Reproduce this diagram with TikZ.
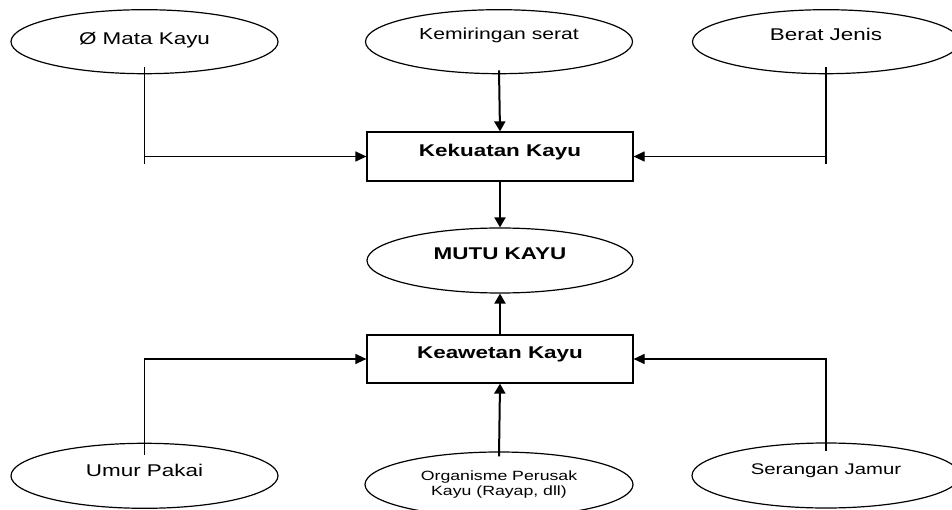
\documentclass[tikz,border=0pt]{standalone}
\usepackage{fontspec}
\setmainfont[FakeStretch=1.32]{Liberation Sans}
\usetikzlibrary{shapes.geometric,arrows.meta}
\begin{document}
\begin{tikzpicture}[x=1pt,y=-1pt,
  ell/.style={ellipse,draw,line width=1.2pt,minimum width=267pt,minimum height=64pt,inner sep=0pt,
    text height=5pt,text depth=5pt,font=\fontsize{17}{19}\selectfont},
  boxnode/.style={rectangle,draw,line width=1.2pt,minimum width=266pt,minimum height=49pt,inner sep=0pt,
    text height=5pt,text depth=5pt,font=\fontsize{17}{19}\selectfont\bfseries},
  thinline/.style={line width=1.2pt},
  thinarr/.style={line width=1.2pt,-{Triangle[length=11pt,width=10pt]}},
  thickarr/.style={line width=2pt,-{Triangle[length=10pt,width=11pt]}}
]
\useasboundingbox (0,0) rectangle (952,510);

% top row
\node[ell] (mata) at (144.5,41.7) {\raisebox{-3.3pt}{Ø Mata Kayu}};
\node[ell,font=\fontsize{16}{18}\selectfont] (kemi) at (499,41.7) {\raisebox{2.4pt}{Kemiringan serat}};
\node[ell] (berat) at (826,41.7) {\raisebox{1pt}{Berat Jenis}};

% centre column
\node[boxnode] (kek) at (500,156.5) {Kekuatan Kayu};
\node[ell,minimum width=266pt,minimum height=65pt,font=\fontsize{17}{19}\selectfont\bfseries] (mutu) at (500,260.5) {\raisebox{0.5pt}{MUTU KAYU}};
\node[boxnode,minimum height=48pt] (kea) at (500,359) {\raisebox{0.7pt}{Keawetan Kayu}};

% bottom row
\node[ell,minimum height=65pt] (umur) at (144.5,475.8) {\raisebox{-0.9pt}{Umur Pakai}};
\node[ell,minimum width=268pt,minimum height=65pt,font=\fontsize{13.4}{15}\selectfont] (org) at (499,484.5)
  {\raisebox{-10.5pt}{\begin{tabular}[b]{@{}c@{}}Organisme Perusak\\Kayu (Rayap, dll)\end{tabular}}};
\node[ell,minimum width=268pt,minimum height=65pt,font=\fontsize{15.4}{17}\selectfont] (serang) at (826,475.5) {\raisebox{1.5pt}{Serangan Jamur}};

% connectors to Kekuatan Kayu
\draw[thinline] ([yshift=7pt]mata.south) -- ([yshift=-8pt]mata.south |- kek.west);
\draw[thinarr] (mata.south |- kek.west) -- (kek.west);
\draw[thinline] ([yshift=7pt]berat.south) -- ([yshift=-8pt]berat.south |- kek.east);
\draw[thinarr] (berat.south |- kek.east) -- (kek.east);
\draw[thickarr] ([yshift=4pt]kemi.south) -- (kek.north);

% to MUTU KAYU
\draw[thickarr] (kek.south) -- (mutu.north);
\draw[thickarr] (kea.north) -- (mutu.south);

% connectors to Keawetan Kayu
\draw[thinarr] ([yshift=-12pt]umur.north) |- (kea.west);
\draw[thinarr] ([yshift=-9pt]serang.north) |- (kea.east);
\draw[thickarr] ([yshift=-5pt]org.north) -- (kea.south);
\end{tikzpicture}
\end{document}
